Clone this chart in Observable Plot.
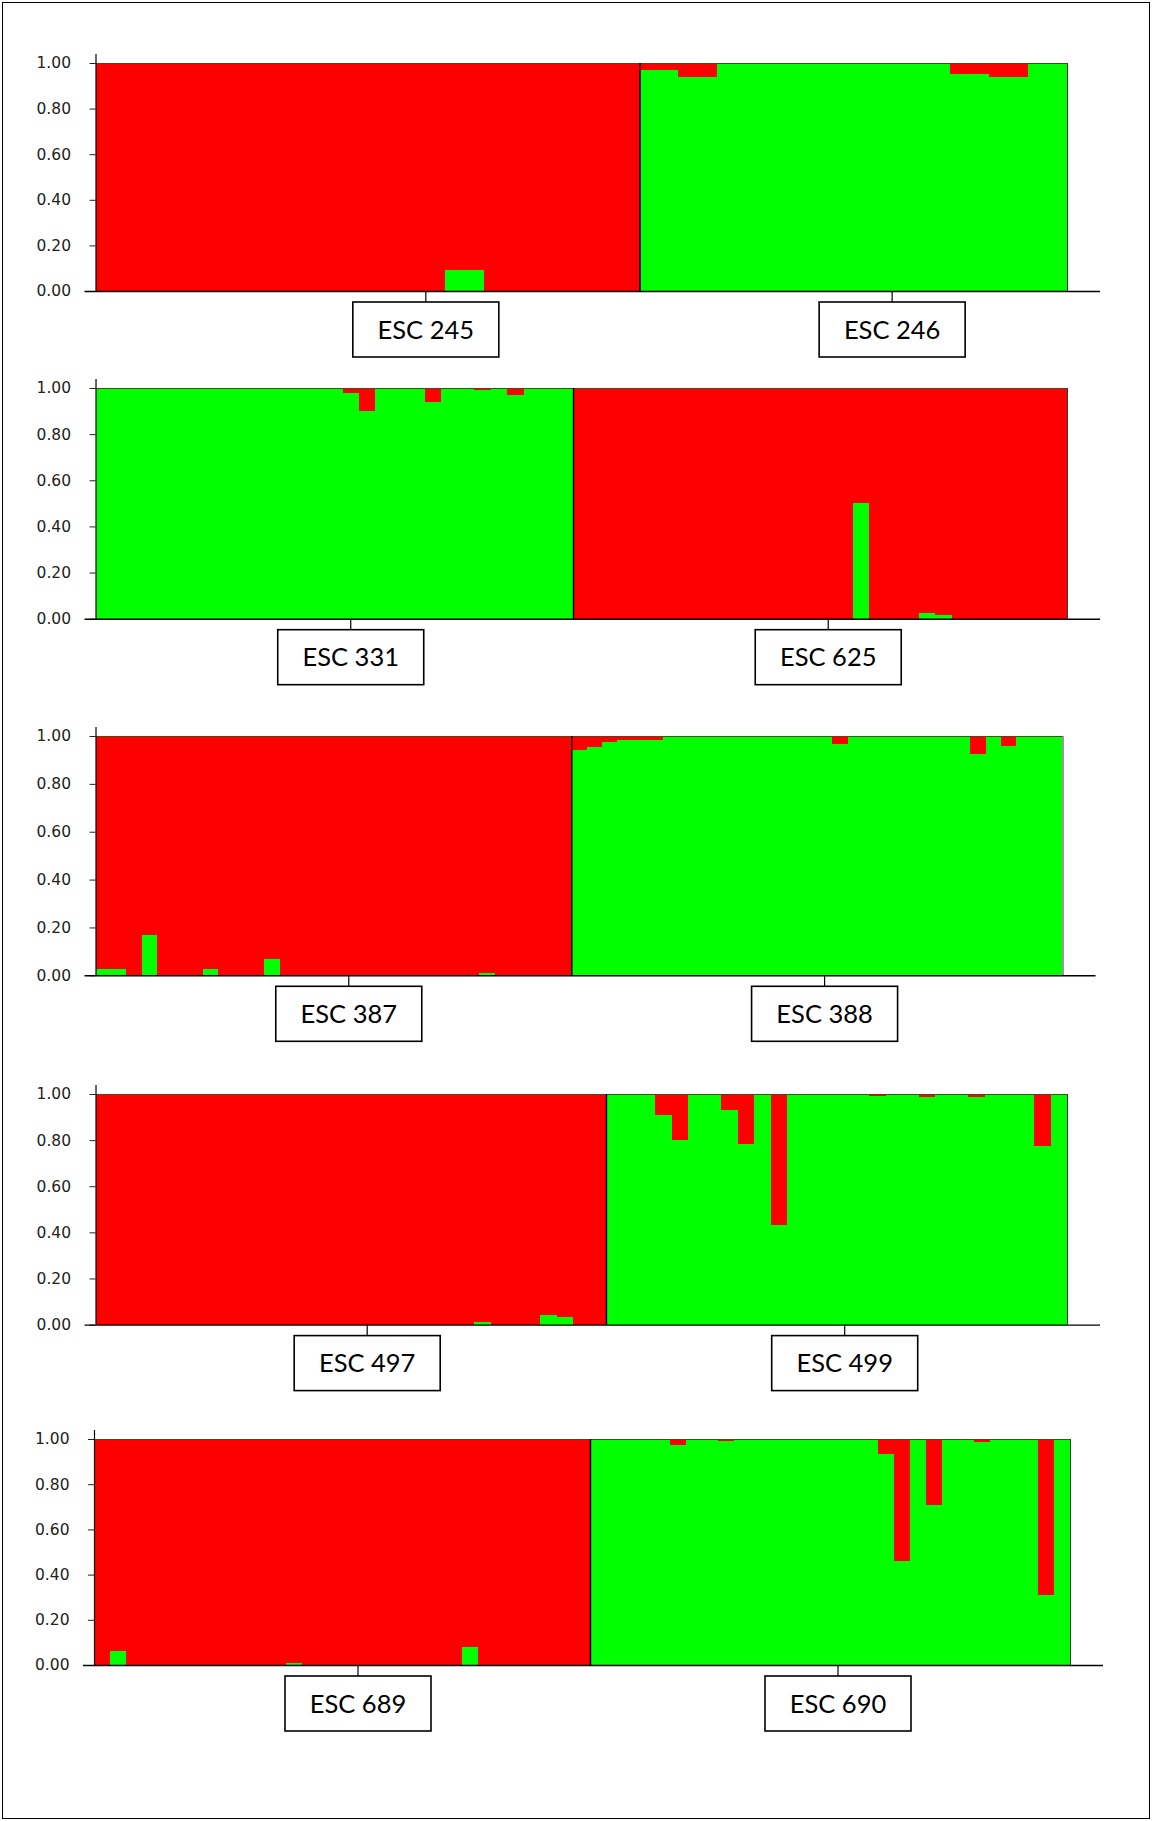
<!DOCTYPE html>
<html><head><meta charset="utf-8">
<script src="https://cdn.jsdelivr.net/npm/d3@7"></script>
<script src="https://cdn.jsdelivr.net/npm/@observablehq/plot@0.6"></script>
<style>
body{margin:0;background:#fff;}
#page{position:relative;width:1152px;height:1821px;overflow:hidden;background:#fff;}
#frame{position:absolute;left:2px;top:2px;width:1148px;height:1817px;border:1.5px solid #000;box-sizing:border-box;}
.panel{position:absolute;left:0;}
</style></head><body><div id="page"><div id="frame"></div></div>
<script>
// ---- data: proportion of membership in the green cluster per individual ----
const popNames = [["ESC 245","ESC 246"],["ESC 331","ESC 625"],["ESC 387","ESC 388"],["ESC 497","ESC 499"],["ESC 689","ESC 690"]];
const esc245 = [0,0,0,0,0,0,0,0,0,0.09,0,0,0,0];
const esc246 = [0.97,0.94,1,1,1,1,1,1,0.95,0.94,1];
const esc331 = [1,1,1,1,1,1,1,1,1,1,1,1,1,1,1,0.98,0.90,1,1,1,0.94,1,1,0.99,1,0.97,1,1,1];
const esc625 = [0,0,0,0,0,0,0,0,0,0,0,0,0,0,0,0,0,0.50,0,0,0,0.025,0.015,0,0,0,0,0,0,0];
const esc387 = [0.025,0.025,0,0.17,0,0,0,0.025,0,0,0,0.07,0,0,0,0,0,0,0,0,0,0,0,0,0,0.01,0,0,0,0,0];
const esc388 = [0.94,0.955,0.975,0.982,0.982,0.985,1,1,1,1,1,1,1,1,1,1,1,0.965,1,1,1,1,1,1,1,1,0.925,1,0.958,1,1,1];
const esc497 = [0,0,0,0,0,0,0,0,0,0,0,0,0,0,0,0,0,0,0,0,0,0,0,0.01,0,0,0,0.04,0.035,0,0];
const esc499 = [1,1,1,0.91,0.80,1,1,0.93,0.785,1,0.43,1,1,1,1,1,0.99,1,1,0.985,1,1,0.985,1,1,1,0.775,0.995];
const esc689 = [0,0.06,0,0,0,0,0,0,0,0,0,0,0.01,0,0,0,0,0,0,0,0,0,0,0.08,0,0,0,0,0,0,0];
const esc690 = [1,1,1,1,1,0.975,1,1,0.99,1,1,1,1,1,1,1,1,1,0.935,0.46,1,0.71,1,1,0.985,1,1,1,0.31,1];
const groups = [[esc245,esc246],[esc331,esc625],[esc387,esc388],[esc497,esc499],[esc689,esc690]];
// individual (0-based, whole panel) under which each population label sits
const labelAt = [[8,20],[15,44],[16,47],[16,45],[16,46]];
const yTicks = [0,0.2,0.4,0.6,0.8,1];
const clusterColors = {green:"#00ff00", red:"#ff0000"};

// ---- layout (page pixels) ----
const layout = [
  {xL:95.5, xR:1067,   yT:62.7,   yB:290.7},
  {xL:95.5, xR:1067,   yT:388.3,  yB:619},
  {xL:95.5, xR:1062.5, yT:736,    yB:975.3},
  {xL:95.5, xR:1067,   yT:1093.7, yB:1324.3},
  {xL:94,   xR:1070,   yT:1439,   yB:1665}
];
const MT = 20, MB = 90;

function boxes(labels){
  return function(index, scales){
    const g = d3.create("svg:g");
    const y0 = scales.y(0);
    for (const l of labels){
      const cx = scales.x(l.at);
      g.append("line").attr("x1",cx).attr("x2",cx).attr("y1",y0).attr("y2",y0+11).attr("stroke","#000").attr("stroke-width",1.2);
      g.append("rect").attr("x",cx-73).attr("y",y0+11).attr("width",146).attr("height",55)
        .attr("fill","#fff").attr("stroke","#000").attr("stroke-width",1.6);
      g.append("text").attr("x",cx).attr("y",y0+11+27.5).attr("dy","0.36em")
        .attr("text-anchor","middle").attr("font-family","Lato, 'Open Sans', sans-serif")
        .attr("font-size",25.5).attr("fill","#000").text(l.name);
    }
    return g.node();
  };
}

layout.forEach((L,k)=>{
  const rows = [];
  let i = 0;
  groups[k].forEach(pop=>{
    pop.forEach(g=>{
      rows.push({x1:i, x2:i+1, y1:0, y2:g, c:clusterColors.green});
      rows.push({x1:i, x2:i+1, y1:g, y2:1, c:clusterColors.red});
      i++;
    });
  });
  const N = i, n1 = groups[k][0].length;
  const labels = popNames[k].map((name,j)=>({name, at: labelAt[k][j]+0.5}));
  const plot = Plot.plot({
    width:1152, height:(L.yB-L.yT)+MT+MB,
    marginLeft:L.xL, marginRight:1152-L.xR, marginTop:MT, marginBottom:MB,
    style:{background:"transparent", color:"#222", fontFamily:"'DejaVu Sans', sans-serif", fontSize:"15.5px"},
    x:{domain:[0,N], axis:null},
    y:{domain:[0,1], ticks:yTicks, tickFormat:d3.format(".2f"), tickSize:6, tickPadding:19, label:null},
    color:{type:"identity"},
    marks:[
      Plot.rect(rows,{x1:"x1", x2:"x2", y1:"y1", y2:"y2", fill:"c", shapeRendering:"crispEdges"}),
      Plot.ruleY([1],{stroke:"#4b4b1e", strokeWidth:1}),
      Plot.ruleX([N],{stroke:"#333", strokeWidth:1}),
      Plot.ruleX([n1],{stroke:"#000", strokeWidth:1.4}),
      Plot.ruleX([0],{stroke:"#000", strokeWidth:1.2, insetTop:-9}),
      Plot.ruleY([0],{stroke:"#000", strokeWidth:1.4, insetLeft:-11, insetRight:-33}),
      boxes(labels)
    ]
  });
  plot.classList.add("panel");
  plot.style.top = (L.yT - MT) + "px";
  plot.style.position = "absolute";
  plot.style.left = "0px";
  document.getElementById("page").appendChild(plot);
});
</script>
</body></html>
